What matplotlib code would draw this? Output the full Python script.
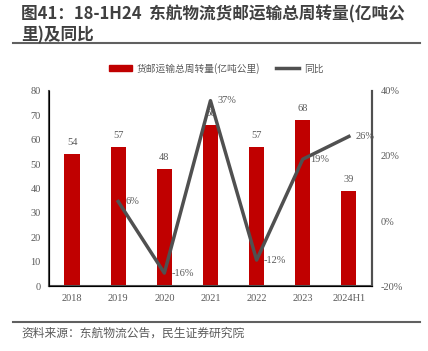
import matplotlib.pyplot as plt
from matplotlib.lines import Line2D
from matplotlib.patches import Patch

plt.rcParams['font.family'] = ['Liberation Serif', 'Noto Sans CJK SC', 'DejaVu Sans']

# data
years = ['2018', '2019', '2020', '2021', '2022', '2023', '2024H1']
turnover = [54, 57, 48, 66, 57, 68, 39]
yoy = [None, 6, -16, 37, -12, 19, 26]
left_ticks = [0, 10, 20, 30, 40, 50, 60, 70, 80]
right_ticks = [-20, 0, 20, 40]

red = '#C00000'
grey = '#505050'
txt = '#595959'

fig = plt.figure(figsize=(4.28, 3.51), dpi=100)
ax = fig.add_axes([0.1145, 0.185, 0.7545, 0.556])
x = list(range(len(years)))
ax.bar(x, turnover, width=0.33, color=red, zorder=2)
for xi, v in zip(x, turnover):
    ax.annotate(str(v), (xi, v), xytext=(0, 5), textcoords='offset points',
                ha='center', va='bottom', fontsize=7.5, color=txt)
ax.set_xlim(-0.5, 6.5)
ax.set_ylim(0, 80)
ax.set_yticks(left_ticks)
ax.set_xticks(x)
ax.set_xticklabels(years)
ax.tick_params(length=0, labelsize=7.5, colors=txt, pad=6)
ax.spines['top'].set_visible(False)
for s in ['left', 'bottom', 'right']:
    ax.spines[s].set_color(grey)
    ax.spines[s].set_linewidth(1.5)

ax2 = ax.twinx()
xs = [xi for xi, v in zip(x, yoy) if v is not None]
ys = [v for v in yoy if v is not None]
ax2.plot(xs, ys, color=grey, lw=2.5, zorder=3)
for xi, v in zip(xs, ys):
    ax2.annotate(f'{v}%', (xi, v), xytext=(5, 0), textcoords='offset points',
                 ha='left', va='center', fontsize=7.5, color=txt)
ax2.set_ylim(-20, 40)
ax2.set_yticks(right_ticks)
ax2.set_yticklabels([f'{t}%' for t in right_ticks])
ax2.tick_params(length=0, labelsize=7.5, colors=txt, pad=6)
ax2.spines['top'].set_visible(False)
ax2.spines['right'].set_color(grey)
ax2.spines['right'].set_linewidth(1.5)

handles = [Patch(color=red), Line2D([0], [0], color=grey, lw=2.5)]
fig.legend(handles, ['货邮运输总周转量(亿吨公里)', '同比'], loc='center',
           bbox_to_anchor=(0.505, 0.806), ncol=2, frameon=False,
           prop={'family': ['Noto Sans CJK SC'], 'size': 7},
           labelcolor=txt, handlelength=2.4, handleheight=0.6, columnspacing=1.6,
           handletextpad=0.5)

title_font = dict(fontsize=12, fontweight='bold', color='#404040',
                  family=['Noto Sans CJK SC'], va='center')
fig.text(0.05, 0.958, '图41：18-1H24  东航物流货邮运输总周转量(亿吨公', **title_font)
fig.text(0.05, 0.9, '里)及同比', **title_font)
fig.add_artist(Line2D([0.031, 0.981], [0.877, 0.877], color='#606060', lw=1.5))
fig.add_artist(Line2D([0.031, 0.981], [0.083, 0.083], color='#606060', lw=1.5))
fig.text(0.05, 0.051, '资料来源：东航物流公告，民生证券研究院', fontsize=8.5, color=txt,
         family=['Noto Sans CJK SC'], va='center')

fig.savefig('out.png', dpi=100)
